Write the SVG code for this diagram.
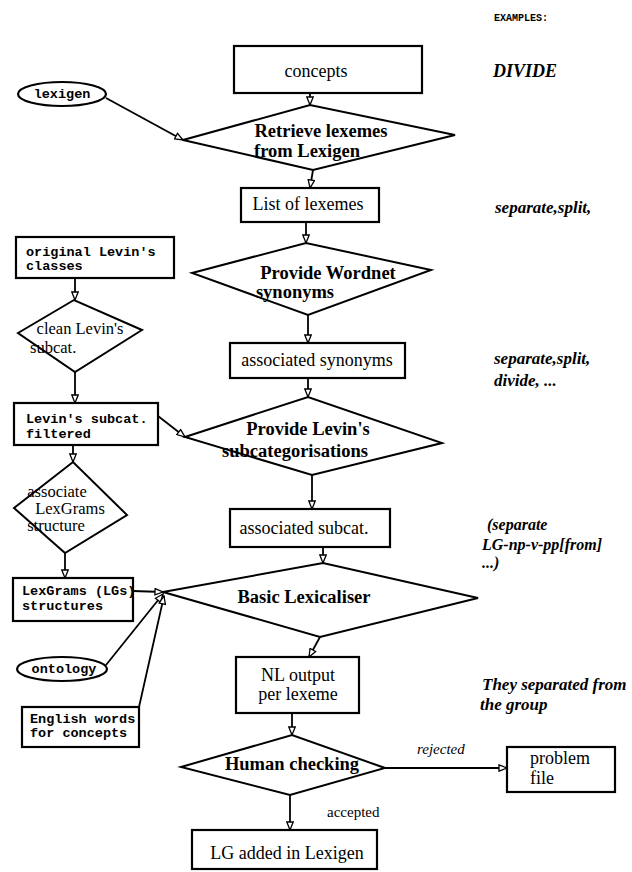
<svg xmlns="http://www.w3.org/2000/svg" width="632" height="872" viewBox="0 0 632 872">
<defs>
<marker id="ah" markerUnits="userSpaceOnUse" markerWidth="10" markerHeight="8" refX="9" refY="4" orient="auto">
<path d="M1,0.8 L9,4 L1,7.2 z" fill="#fff" stroke="#000" stroke-width="1.3"/>
</marker>
<style>
.bx{fill:#fff;stroke:#000;stroke-width:2.2}
.dm{fill:#fff;stroke:#000;stroke-width:2}
.cn line{stroke:#000;stroke-width:1.8;marker-end:url(#ah)}
.t{font-family:"Liberation Serif","Times New Roman",serif;font-size:18px;fill:#000}
.tb{font-family:"Liberation Serif","Times New Roman",serif;font-size:18.5px;font-weight:bold;fill:#000}
.ts{font-family:"Liberation Serif","Times New Roman",serif;font-size:16.5px;fill:#000}
.tm{font-family:"Liberation Mono","Courier New",monospace;font-size:13.5px;font-weight:bold;fill:#000}
.ti{font-family:"Liberation Serif","Times New Roman",serif;font-size:17px;font-style:italic;font-weight:bold;fill:#000}
.c{text-anchor:middle}
</style>
</defs>
<rect width="632" height="872" fill="#fff"/>

<text x="494" y="21" style="font-family:'Liberation Mono',monospace;font-size:10px;font-weight:bold">EXAMPLES:</text>
<text x="493" y="77" class="ti" style="font-size:18px">DIVIDE</text>
<text x="495" y="213" class="ti">separate,split,</text>
<text x="494" y="364" class="ti">separate,split,</text>
<text x="494" y="386" class="ti">divide, ...</text>
<text x="487" y="530" class="ti" style="font-size:16px">(separate</text>
<text x="482" y="550" class="ti" style="font-size:16px">LG-np-v-pp[from]</text>
<text x="482" y="568" class="ti" style="font-size:16px">...)</text>
<text x="482" y="690" class="ti">They separated from</text>
<text x="480" y="710" class="ti">the group</text>

<g class="cn" id="connectors">
<line x1="106" y1="98" x2="183" y2="140"/>
<line x1="310" y1="93" x2="310" y2="105"/>
<line x1="313" y1="170" x2="310" y2="188"/>
<line x1="306" y1="222" x2="306" y2="243"/>
<line x1="308" y1="315" x2="308" y2="343"/>
<line x1="308" y1="378" x2="308" y2="397"/>
<line x1="75" y1="278" x2="75" y2="300"/>
<line x1="75" y1="372" x2="75" y2="403"/>
<line x1="158" y1="416" x2="185" y2="437"/>
<line x1="73" y1="445" x2="73" y2="462"/>
<line x1="65" y1="553" x2="65" y2="578"/>
<line x1="312" y1="475" x2="312" y2="509"/>
<line x1="323" y1="547" x2="323" y2="563"/>
<line x1="133" y1="591" x2="163" y2="592"/>
<line x1="106" y1="665" x2="163" y2="594"/>
<line x1="139" y1="707" x2="164" y2="596"/>
<line x1="320" y1="637" x2="309" y2="657"/>
<line x1="292" y1="713" x2="292" y2="735"/>
<line x1="385" y1="768" x2="507" y2="768"/>
<line x1="290" y1="795" x2="290" y2="830"/>
<text x="417" y="754" class="t" style="font-size:15px;font-style:italic">rejected</text>
<text x="327" y="817" class="t" style="font-size:15px">accepted</text>
</g>

<g id="concepts"><rect class="bx" x="234" y="46" width="188" height="47"/><text x="316" y="77" class="t c">concepts</text></g>
<g id="lexigen"><ellipse class="bx" cx="62" cy="94" rx="44" ry="12"/><text x="62" y="98" class="tm c">lexigen</text></g>
<g id="retrieve"><polygon class="dm" points="183,140 310,105 455,135 313,170"/><text x="321" y="137" class="tb c">Retrieve lexemes</text><text x="307" y="157" class="tb c">from Lexigen</text></g>
<g id="list"><rect class="bx" x="241" y="188" width="138" height="34"/><text x="308" y="210" class="t c">List of lexemes</text></g>
<g id="wordnet"><polygon class="dm" points="192,273 306,243 431,270 308,315"/><text x="328" y="279" class="tb c">Provide Wordnet</text><text x="295" y="298" class="tb c">synonyms</text></g>
<g id="origlevin"><rect class="bx" x="16" y="237" width="158" height="41"/><text x="26" y="256" class="tm">original Levin's</text><text x="26" y="270" class="tm">classes</text></g>
<g id="clean"><polygon class="dm" points="18,333 74,300 142,330 75,372"/><text x="80" y="334" class="ts c">clean Levin's</text><text x="30" y="353" class="ts">subcat.</text></g>
<g id="assocsyn"><rect class="bx" x="230" y="343" width="175" height="35"/><text x="317" y="366" class="t c">associated synonyms</text></g>
<g id="filtered"><rect class="bx" x="14" y="403" width="144" height="42"/><text x="26" y="423" class="tm">Levin's subcat.</text><text x="26" y="438" class="tm">filtered</text></g>
<g id="levin"><polygon class="dm" points="185,437 308,397 442,443 312,475"/><text x="308" y="435" class="tb c">Provide Levin's</text><text x="295" y="457" class="tb c">subcategorisations</text></g>
<g id="associate"><polygon class="dm" points="14,508 73,462 127,515 65,553"/><text x="57" y="497" class="ts c">associate</text><text x="70" y="514" class="ts c">LexGrams</text><text x="56" y="531" class="ts c">structure</text></g>
<g id="assocsubcat"><rect class="bx" x="230" y="509" width="160" height="38"/><text x="304" y="534" class="t c">associated subcat.</text></g>
<g id="lexgrams"><rect class="bx" x="13" y="578" width="120" height="43"/><text x="22" y="595" class="tm">LexGrams (LGs)</text><text x="22" y="610" class="tm">structures</text></g>
<g id="basic"><polygon class="dm" points="163,592 323,563 478,598 320,637"/><text x="304" y="603" class="tb c">Basic Lexicaliser</text></g>
<g id="ontology"><ellipse class="bx" cx="62" cy="669" rx="45" ry="12"/><text x="64" y="673" class="tm c">ontology</text></g>
<g id="english"><rect class="bx" x="22" y="707" width="117" height="40"/><text x="30" y="723" class="tm">English words</text><text x="30" y="737" class="tm">for concepts</text></g>
<g id="nloutput"><rect class="bx" x="236" y="657" width="123" height="56"/><text x="298" y="681" class="t c">NL output</text><text x="298" y="700" class="t c">per lexeme</text></g>
<g id="human"><polygon class="dm" points="181,767 292,735 385,768 290,795"/><text x="292" y="770" class="tb c">Human checking</text></g>
<g id="problem"><rect class="bx" x="507" y="747" width="108" height="45"/><text x="530" y="764" class="t">problem</text><text x="530" y="784" class="t">file</text></g>
<g id="lgadded"><rect class="bx" x="192" y="830" width="185" height="39"/><text x="287" y="859" class="t c">LG added in Lexigen</text></g>
</svg>
